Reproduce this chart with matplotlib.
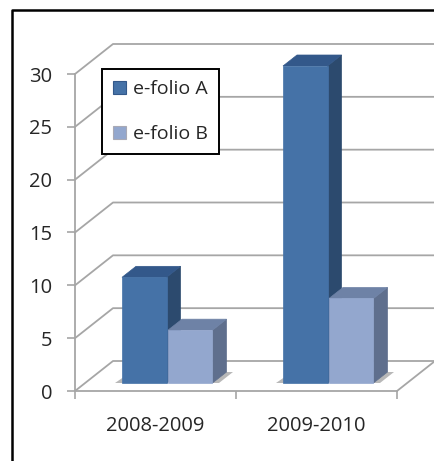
import matplotlib
matplotlib.use('Agg')
import matplotlib.pyplot as plt
from matplotlib.lines import Line2D
from matplotlib.patches import Patch, Polygon

categories = ['2008-2009', '2009-2010']
efolio_a = [10, 30]
efolio_b = [5, 8]
yticks = [0, 5, 10, 15, 20, 25, 30]

W, H = 435, 461
GRID = '#a6a6a6'
TEXT = '#262626'
A_COLS = ('#4572a7', '#33588a', '#2c4a6e')
B_COLS = ('#93a7ce', '#6e82a6', '#5f6f8d')

plt.rcParams['font.family'] = 'Open Sans'
fig = plt.figure(figsize=(W / 100, H / 100), dpi=100)
ax = fig.add_axes([75 / W, 1 - 391 / H, 322 / W, 317 / H])
ax.set_xlim(0, 2)
ax.set_ylim(0, 30)

# 3d look is just an oblique offset, in data units
PX = 2 / 322
PY = 30 / 317
wall_dx, wall_dy = 38 * PX, 30 * PY
plane_dx, plane_dy = 11 * PX, 8 * PY
bar_dx, bar_dy = 14 * PX, 11 * PY
bar_w = 44.5 * PX


def bar3d(x, val, cols):
    x0 = x + plane_dx
    x1 = x0 + bar_w
    y0 = plane_dy
    y1 = plane_dy + val
    front, top, side = cols
    ax.add_patch(Polygon([(x1, y0), (x1, y1), (x1 + bar_dx, y1 + bar_dy), (x1 + bar_dx, y0 + bar_dy)],
                         fc=side, ec=side, lw=0.5, clip_on=False, zorder=4))
    ax.add_patch(Polygon([(x0, y1), (x1, y1), (x1 + bar_dx, y1 + bar_dy), (x0 + bar_dx, y1 + bar_dy)],
                         fc=top, ec=top, lw=0.5, clip_on=False, zorder=4))
    ax.add_patch(Polygon([(x0, y0), (x1, y0), (x1, y1), (x0, y1)],
                         fc=front, ec=front, lw=0.5, clip_on=False, zorder=5))


# back wall and side wall gridlines
right = (W - 75) * PX + 0.02
for t in yticks:
    ax.plot([0, wall_dx, right], [t, t + wall_dy, t + wall_dy], color=GRID, lw=1.3,
            clip_on=False, zorder=1)
ax.plot([2, 2 + wall_dx], [0, wall_dy], color=GRID, lw=1.3, clip_on=False, zorder=1)

# floor shadows, then bars
for i in range(len(categories)):
    left = i + 0.5 - bar_w
    sx0 = left + plane_dx - 7 * PX
    sx1 = left + plane_dx + 2 * bar_w + bar_dx + 8 * PX
    ax.add_patch(Polygon([(sx0, plane_dy), (sx1 - bar_dx, plane_dy), (sx1, plane_dy + bar_dy),
                          (sx0 + 16 * PX, plane_dy + bar_dy)],
                         fc='#b8b8b8', ec='none', clip_on=False, zorder=2))
    bar3d(left, efolio_a[i], A_COLS)
    bar3d(left + bar_w + 1.5 * PX, efolio_b[i], B_COLS)

ax.patch.set_visible(False)
for s in ['top', 'right']:
    ax.spines[s].set_visible(False)
for s in ['left', 'bottom']:
    ax.spines[s].set_color(GRID)
    ax.spines[s].set_linewidth(1.3)
ax.set_yticks(yticks)
ax.set_xticks([0, 1, 2])
ax.set_xticklabels([])
ax.set_xticks([0.5, 1.5], labels=categories, minor=True)
ax.tick_params(axis='x', which='major', length=5.5, width=1.2, color=GRID, direction='out')
ax.tick_params(axis='x', which='minor', length=0, pad=18, labelsize=14.5, labelcolor=TEXT)
ax.tick_params(axis='y', length=5.5, width=1.2, color=GRID, pad=11, labelsize=14.5, labelcolor=TEXT)

handles = [Patch(fc=A_COLS[0], ec=A_COLS[1], lw=0.8), Patch(fc=B_COLS[0], ec='#a9a9b5', lw=0.8)]
leg = fig.legend(handles, ['e-folio A', 'e-folio B'], loc='upper left',
                 bbox_to_anchor=(102 / W, 1 - 69.5 / H), borderaxespad=0, fontsize=14,
                 fancybox=False, framealpha=1, edgecolor='black', labelcolor=TEXT,
                 handlelength=0.7, handleheight=0.7, handletextpad=0.35, labelspacing=1.4,
                 borderpad=0.55)
leg.get_frame().set_linewidth(1.4)
leg.set_zorder(10)

# picture frame, only top and left are in the crop
fig.add_artist(Line2D([12.5 / W, 12.5 / W, 1], [0, 1 - 10.5 / H, 1 - 10.5 / H], color='black', lw=1.8))

fig.savefig('out.png', dpi=100)
